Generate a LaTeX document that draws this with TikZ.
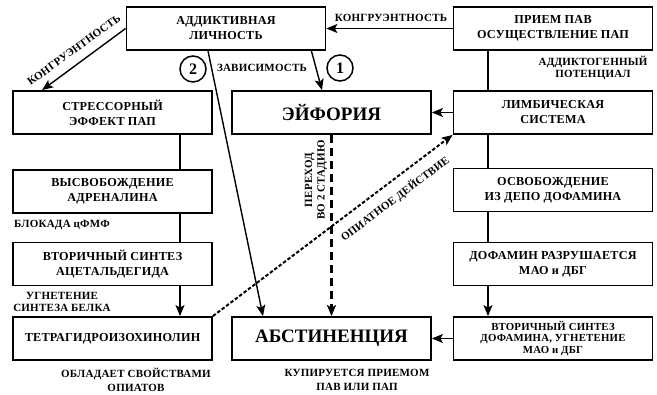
\documentclass[tikz,border=0pt]{standalone}
\usepackage{fontspec}
\setmainfont{Liberation Serif}
\newfontfamily\lblfont{Liberation Serif}[LetterSpace=2]
\newfontfamily\boxfont{Liberation Serif}[LetterSpace=2]
\usetikzlibrary{arrows.meta,calc}
\tikzset{
  box/.style={draw, line width=1.8pt, minimum width=199pt, minimum height=43pt, inner sep=0pt,
    align=center, font=\boxfont\fontsize{12.2}{15}\selectfont\bfseries},
  bigbox/.style={box, font=\fontsize{19}{22}\selectfont\bfseries},
  smallbox/.style={box, font=\boxfont\fontsize{10.8}{11.8}\selectfont\bfseries},
  lbl/.style={inner sep=0pt, align=center, font=\lblfont\fontsize{11}{12.5}\selectfont\bfseries},
  lblb/.style={lbl, font=\lblfont\fontsize{11}{14}\selectfont\bfseries},
  conn/.style={line width=1.4pt},
  arr/.style={conn, -{Stealth[length=11pt,width=9pt,inset=2.5pt]}},
  numc/.style={draw, circle, line width=1.5pt, minimum size=26pt, inner sep=0pt, font=\fontsize{16}{16}\selectfont\bfseries}
}
\begin{document}
\begin{tikzpicture}[x=1pt,y=-1pt]
\useasboundingbox (0,0) rectangle (657,395);
% boxes
\node[box] (addict) at (226,28.5) {АДДИКТИВНАЯ\\ЛИЧНОСТЬ};
\node[box] (priem) at (553,28.5) {ПРИЕМ ПАВ\\ОСУЩЕСТВЛЕНИЕ ПАП};
\node[box] (stress) at (112.5,112.5) {СТРЕССОРНЫЙ\\ЭФФЕКТ ПАП};
\node[bigbox] (euph) at (331.5,112.5) {ЭЙФОРИЯ};
\node[box] (limb) at (553,112.5) {ЛИМБИЧЕСКАЯ\\СИСТЕМА};
\node[box] (vysv) at (112.5,191.5) {ВЫСВОБОЖДЕНИЕ\\АДРЕНАЛИНА};
\node[box] (osv) at (553,190) {ОСВОБОЖДЕНИЕ\\ИЗ ДЕПО ДОФАМИНА};
\node[box] (acet) at (112.5,264) {ВТОРИЧНЫЙ СИНТЕЗ\\АЦЕТАЛЬДЕГИДА};
\node[box] (dofr) at (553,264) {ДОФАМИН РАЗРУШАЕТСЯ\\МАО и ДБГ};
\node[box] (tetra) at (112.5,338.5) {ТЕТРАГИДРОИЗОХИНОЛИН};
\node[bigbox] (abst) at (331.5,338.5) {АБСТИНЕНЦИЯ};
\node[smallbox] (vtord) at (553,338.5) {ВТОРИЧНЫЙ СИНТЕЗ\\ДОФАМИНА, УГНЕТЕНИЕ\\МАО и ДБГ};
% connectors
\draw[arr] (addict.west) -- ($(stress.north west)+(30,0)$);
\draw[arr] (priem.west) -- (addict.east);
\draw[arr] ($(addict.south east)+(-15,0)$) -- ($(euph.north)+(-9.5,0)$);
\draw[arr] ($(addict.south)+(-18,0)$) -- ($(abst.north)+(-68.5,0)$);
\draw[conn] ($(priem.south)+(-65,0)$) -- ($(limb.north)+(-65,0)$);
\draw[arr] (limb.west) -- (euph.east);
\draw[conn] ($(stress.south)+(67.5,0)$) -- ($(vysv.north)+(67.5,0)$);
\draw[conn] ($(vysv.south)+(67.5,0)$) -- ($(acet.north)+(67.5,0)$);
\draw[arr] ($(acet.south)+(67.5,0)$) -- ($(tetra.north)+(67.5,0)$);
\draw[conn] ($(limb.south)+(-65,0)$) -- ($(osv.north)+(-65,0)$);
\draw[conn] ($(osv.south)+(-65,0)$) -- ($(dofr.north)+(-65,0)$);
\draw[arr] ($(dofr.south)+(-65,0)$) -- ($(vtord.north)+(-65,0)$);
\draw[arr] (vtord.west) -- (abst.east);
\draw[arr, line width=2.2pt, dash pattern=on 8pt off 5pt] (euph.south) -- (abst.north);
\draw[arr, line width=2pt, dash pattern=on 3.5pt off 2pt] (tetra.north east) -- (limb.south west);
% circles
\node[numc] (c2) at (193,69) {2};
\node[numc] (c1) at (340,68) {1};
% labels
\node[lbl, rotate=36] (l1) at (74,50) {КОНГРУЭНТНОСТЬ};
\node[lbl] (l2) at (391,18) {КОНГРУЭНТНОСТЬ};
\node[lbl] (l3) at (262,68) {ЗАВИСИМОСТЬ};
\node[lbl] (l4) at (593,68) {АДДИКТОГЕННЫЙ\\ПОТЕНЦИАЛ};
\node[lbl, rotate=90] (l5) at (316,180) {ПЕРЕХОД\\ВО 2 СТАДИЮ};
\node[lbl, rotate=37.2] (l6) at (395,199) {ОПИАТНОЕ ДЕЙСТВИЕ};
\node[lbl, anchor=west] (l7) at (14,225) {БЛОКАДА цФМФ};
\node[lbl] (l8) at (62,302) {УГНЕТЕНИЕ\\СИНТЕЗА БЕЛКА};
\node[lblb] (l9) at (136,380) {ОБЛАДАЕТ СВОЙСТВАМИ\\ОПИАТОВ};
\node[lblb] (l10) at (357,380) {КУПИРУЕТСЯ ПРИЕМОМ\\ПАВ ИЛИ ПАП};
\end{tikzpicture}
\end{document}
